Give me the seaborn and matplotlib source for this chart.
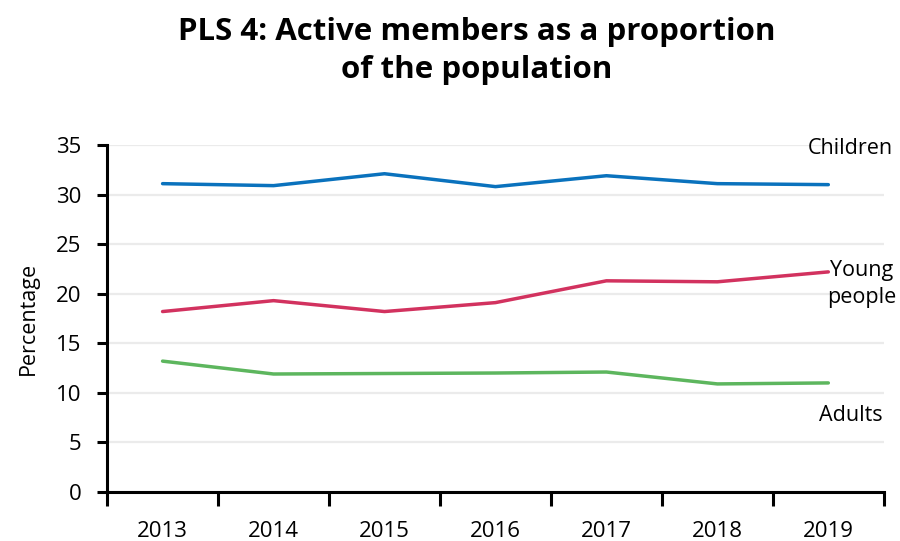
import numpy as np
import pandas as pd
import seaborn as sns
import matplotlib.pyplot as plt

# values
years = ['2013', '2014', '2015', '2016', '2017', '2018', '2019']
children = [31.1, 30.9, 32.1, 30.8, 31.9, 31.1, 31.0]
young_people = [18.2, 19.3, 18.2, 19.1, 21.3, 21.2, 22.2]
adults = [13.2, 11.9, 11.95, 12.0, 12.1, 10.9, 11.0]
groups = ['Children', 'Young people', 'Adults']
colours = ['#0a72bd', '#d2325f', '#5db65e']

df = pd.DataFrame({
    'pos': list(range(len(years))) * 3,
    'value': children + young_people + adults,
    'group': [g for g in groups for _ in years],
})

sns.set_theme(style="white")
plt.rcParams['font.family'] = ['Open Sans', 'DejaVu Sans']
plt.rcParams['text.color'] = 'black'
plt.rcParams['xtick.color'] = 'black'
plt.rcParams['ytick.color'] = 'black'
plt.rcParams['axes.labelcolor'] = 'black'

fig = plt.figure(figsize=(9, 5.41), dpi=100)
ax = fig.add_axes([0.119, 0.0906, 0.863, 0.6414])

sns.lineplot(data=df, x='pos', y='value', hue='group', palette=colours,
             linewidth=2.5, legend=False, ax=ax)

ax.set_xlim(-0.5, len(years) - 0.5)
ax.set_ylim(0, 35)
ax.set_yticks(range(0, 36, 5))
ax.yaxis.grid(True, color='#ebebeb', linewidth=1.6)
ax.set_axisbelow(True)

# category labels in the middle, tick marks on the boundaries
ax.set_xticks(range(len(years)))
ax.set_xticklabels(years)
ax.set_xticks(np.arange(-0.5, len(years), 1.0), minor=True)
ax.tick_params(axis='x', which='major', length=0, pad=21, labelsize=16)
ax.tick_params(axis='x', which='minor', length=10, width=2.2, color='black',
               direction='out', bottom=True)
ax.tick_params(axis='y', length=7.5, width=2.2, color='black', left=True,
               labelsize=16, pad=11)

for side in ['top', 'right']:
    ax.spines[side].set_visible(False)
for side in ['left', 'bottom']:
    ax.spines[side].set_color('black')
    ax.spines[side].set_linewidth(2.2)

ax.set_xlabel('')
ax.set_ylabel('Percentage', fontsize=15.5, labelpad=12)

# series labels at the right end
ax.text(6.2, 34.6, 'Children', fontsize=15.5, ha='center', va='center')
ax.text(6.3, 21.0, 'Young\npeople', fontsize=15.5, ha='center', va='center',
        linespacing=1.4)
ax.text(6.2, 7.7, 'Adults', fontsize=15.5, ha='center', va='center')

fig.text(0.530, 0.906, 'PLS 4: Active members as a proportion\nof the population',
         fontsize=22.5, fontweight='bold', ha='center', va='center',
         linespacing=1.35)

plt.savefig('out.png', dpi=100)
